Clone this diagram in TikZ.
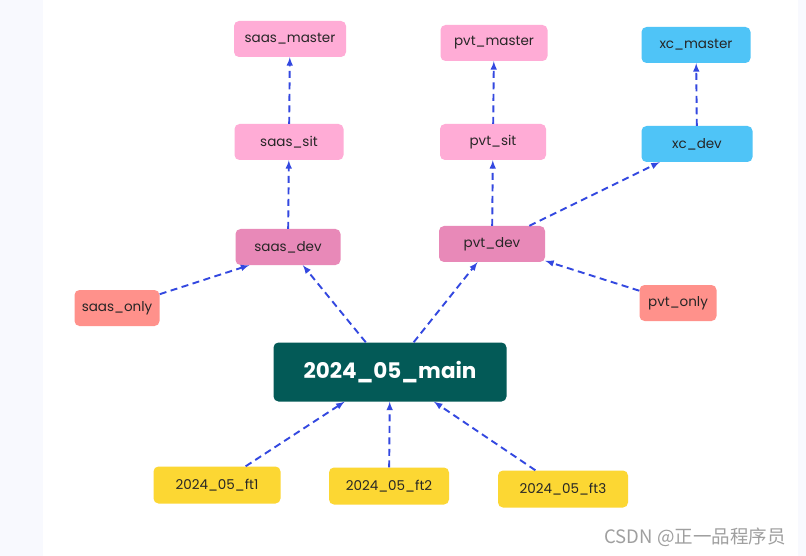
\documentclass[tikz,border=0pt]{standalone}
\usepackage{fontspec}
\setmainfont{Poppins}
\newfontfamily\cjkfont{Noto Sans CJK SC}
\usetikzlibrary{arrows}
\definecolor{lightpink}{HTML}{FFACD6}
\definecolor{devpink}{HTML}{E889B8}
\definecolor{salmon}{HTML}{FF918B}
\definecolor{skyblue}{HTML}{4FC4F7}
\definecolor{maingreen}{HTML}{035A57}
\definecolor{ftyellow}{HTML}{FCD733}
\definecolor{linkblue}{HTML}{3348E0}
\definecolor{textdark}{HTML}{262626}
\definecolor{stripbg}{HTML}{F8F9FE}
\tikzset{
  branch/.style={rounded corners=5pt,minimum height=36pt,inner sep=0pt,
    text=textdark,font=\fontsize{13.5}{15}\selectfont},
  link/.style={-latex,linkblue,line width=1.9pt,dash pattern=on 7pt off 4.5pt}
}

\begin{document}
\begin{tikzpicture}[x=1pt,y=-1pt]
                 \useasboundingbox (0,0) rectangle (806,556);
                 \fill[white] (0,0) rectangle (806,556);
                 \fill[stripbg] (0,0) rectangle (43,556);
                 \fill[stripbg] (798,0) rectangle (806,556);
                 % top row
                 \node[branch,fill=lightpink,minimum width=112pt](saasmaster)at(290,39){saas\_master};
                 \node[branch,fill=lightpink,minimum width=107pt](pvtmaster)at(494,43){pvt\_master};
                 \node[branch,fill=skyblue,minimum width=109pt](xcmaster)at(696,45){xc\_master};
                 % second row
                 \node[branch,fill=lightpink,minimum width=109pt](saassit)at(289,142){saas\_sit};
                 \node[branch,fill=lightpink,minimum width=106pt](pvtsit)at(493,142){pvt\_sit};
                 \node[branch,fill=skyblue,minimum width=111pt](xcdev)at(697,144){xc\_dev};
                 % dev row
                 \node[branch,fill=devpink,minimum width=105pt](saasdev)at(288,247){saas\_dev};
                 \node[branch,fill=devpink,minimum width=106pt](pvtdev)at(492,244){pvt\_dev};
                 \node[branch,fill=salmon,minimum width=85pt](saasonly)at(117,308){saas\_only};
                 \node[branch,fill=salmon,minimum width=77pt](pvtonly)at(678,303){pvt\_only};
                 % main
                 \node[branch,fill=maingreen,minimum width=233pt,minimum height=59pt,
                   text=white,font=\fontsize{21.5}{24}\selectfont\bfseries](main)at(390,372){2024\_05\_main};
                 % feature branches
                 \node[branch,fill=ftyellow,minimum width=127pt,minimum height=37pt](ftone)at(217,485){2024\_05\_ft1};
                 \node[branch,fill=ftyellow,minimum width=120pt,minimum height=37pt](fttwo)at(389,486){2024\_05\_ft2};
                 \node[branch,fill=ftyellow,minimum width=130pt,minimum height=37pt](ftthree)at(563,489){2024\_05\_ft3};
                 % links
                 \draw[link](saassit)--(saasmaster);
                 \draw[link](saasdev)--(saassit);
                 \draw[link](pvtsit)--(pvtmaster);
                 \draw[link](pvtdev)--(pvtsit);
                 \draw[link](xcdev)--(xcmaster);
                 \draw[link](pvtdev)--(xcdev);
                 \draw[link](saasonly)--([xshift=14pt]saasdev.south west);
                 \draw[link](pvtonly)--(pvtdev);
                 \draw[link](main)--(saasdev);
                 \draw[link](main)--(pvtdev);
                 \draw[link](ftone)--(main);
                 \draw[link](fttwo)--(main);
                 \draw[link](ftthree)--(main);
                 \node[text=gray!75,font=\cjkfont\fontsize{18.5}{20}\selectfont](mark)at(695,537){CSDN @正一品程序员};
               \end{tikzpicture}
\end{document}
